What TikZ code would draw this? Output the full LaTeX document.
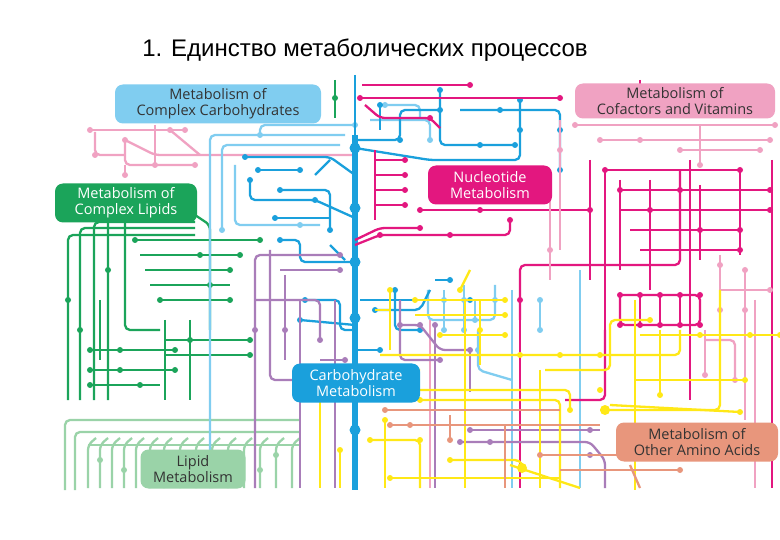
\documentclass[tikz,border=0pt]{standalone}
\usepackage{fontspec}
\setmainfont{Liberation Sans}
\newfontfamily\lab{Open Sans}
\definecolor{cB}{HTML}{1AA0DC}
\definecolor{cLB}{HTML}{80CDF0}
\definecolor{cM}{HTML}{E3177F}
\definecolor{cP}{HTML}{F0A2C2}
\definecolor{cG}{HTML}{1BA45A}
\definecolor{cLG}{HTML}{9AD3A8}
\definecolor{cV}{HTML}{A97DB9}
\definecolor{cY}{HTML}{FFE817}
\definecolor{cS}{HTML}{E8967C}
\tikzset{
 pw/.style={line width=2.3pt,rounded corners=5pt},
 B/.style={pw,draw=cB}, LB/.style={pw,draw=cLB}, M/.style={pw,draw=cM},
 P/.style={pw,draw=cP}, G/.style={pw,draw=cG}, LG/.style={pw,draw=cLG},
 V/.style={pw,draw=cV}, Y/.style={pw,draw=cY}, S/.style={pw,draw=cS},
 lbl/.style={rounded corners=8pt,inner sep=2pt,align=center,font=\lab\fontsize{14.5}{16}\selectfont,minimum height=39pt}
}
\newcommand\dts[2]{\foreach \q in {#2}{\fill[#1] \q circle (3pt);}}
\begin{document}
\begin{tikzpicture}[x=1pt,y=-1pt]
\useasboundingbox[fill=white] (0,0) rectangle (780,540);
\node (title) at (365,50) {\fontsize{24}{28}\selectfont 1. Единство метаболических процессов};

% ---------- light green (lipid) bottom-left
\draw[LG] (65,490)--(65,420)--(300,420);
\draw[LG] (75,490)--(75,432)--(300,432);
\foreach \x in {88,100,112,124,136,150,164,180,196,212,228,244,260,276,292}{\draw[LG] (\x,488)--(\x,445)--(\x+8,438);}
\draw[LG] (88,445)--(300,445);
\dts{cLG}{(100,460),(124,470),(150,455),(196,470),(228,460),(260,470),(276,455)}

% ---------- green (complex lipids)
\foreach \x/\t in {68/235,80/228,94/222,108/215}{\draw[G] (\x,400)--(\x,\t)--(195,\t);}
\draw[G] (195,215)--(210,225)--(210,330);
\draw[G] (125,215)--(125,330)--(160,330);
\draw[G] (135,240)--(260,240);
\draw[G] (140,255)--(240,255);
\draw[G] (145,270)--(230,270);
\draw[G] (150,285)--(230,285);
\draw[G] (160,300)--(230,300);
\draw[G] (100,300)--(100,360);
\draw[G] (90,350)--(175,350);
\draw[G] (90,370)--(175,370);
\draw[G] (90,385)--(160,385);
\draw[G] (165,340)--(250,340);
\draw[G] (165,355)--(250,355);
\draw[G] (165,320)--(165,400);
\draw[G] (190,320)--(190,400);
\draw[G] (335,80)--(335,118);
\dts{cG}{(135,240),(260,240),(240,255),(230,270),(160,300),(230,300),(90,350),(120,350),(175,350),(90,370),(120,370),(175,370),(90,385),(140,385),(250,340),(250,355),(190,340),(68,300),(80,330),(108,270),(335,98),(200,255),(210,285)}

% ---------- pink top-left
\draw[P] (90,130)--(185,130);
\draw[P] (95,132)--(95,155)--(125,155);
\draw[P] (125,140)--(125,165)--(195,165);
\draw[P] (125,140)--(155,155)--(200,155)--(355,155);
\draw[P] (155,125)--(155,165);
\draw[P] (170,130)--(200,155);
\draw[P] (125,175)--(125,165);
\dts{cP}{(90,130),(185,130),(95,155),(125,140),(125,175),(170,130),(155,165),(195,165)}

% ---------- light blue
\draw[LB] (210,488)--(210,135)--(345,135);
\draw[LB] (222,230)--(222,145)--(340,145);
\draw[LB] (235,165)--(235,225)--(320,225);
\draw[LB] (260,135)--(260,125)--(355,125);
\draw[LB] (355,78)--(355,135);
\draw[LB] (370,120)--(430,120)--(430,140);
\draw[LB] (428,290)--(428,320)--(495,320)--(495,285);
\draw[LB] (444,290)--(444,330);
\draw[LB] (464,285)--(464,330);
\draw[LB] (475,300)--(475,320);
\draw[LB] (512,290)--(512,488);
\draw[LB] (580,270)--(580,488);
\draw[LB] (540,300)--(540,330);
\draw[LB] (478,330)--(478,370)--(512,380);
\draw[LB] (385,105)--(420,105)--(420,120);
\dts{cLB}{(222,230),(260,135),(355,125),(430,140),(444,300),(464,300),(495,300),(444,330),(464,330),(475,320),(540,300),(540,330),(478,350),(385,105),(300,225)}

% ---------- blue (carbohydrate)
\draw[B] (245,157)--(330,157)--(355,175);
\draw[B] (258,170)--(300,170);
\draw[B] (250,180)--(250,200)--(315,200)--(355,218);
\draw[B] (280,190)--(330,190)--(330,230);
\draw[B] (275,218)--(330,218);
\draw[B] (280,240)--(300,240)--(300,262)--(355,262);
\draw[B] (315,175)--(330,160);
\draw[B] (330,245)--(345,260);
\draw[B] (355,140)--(400,140)--(400,110)--(440,110);
\draw[B] (355,148)--(430,160)--(520,160)--(520,100);
\draw[B] (440,90)--(440,145)--(515,145);
\draw[B] (460,110)--(560,110)--(560,170);
\draw[B] (360,300)--(470,300);
\draw[B] (395,290)--(395,330)--(420,330);
\draw[B] (305,300)--(340,300)--(340,330)--(355,330);
\draw[B] (375,310)--(420,310)--(430,290);
\draw[B] (355,350)--(380,350);
\draw[B] (300,320)--(355,325);
\draw[B] (380,105)--(380,130);
\draw[B] (435,280)--(450,280);
\draw[B] (355,75)--(355,490);
\draw[cB,line width=5.5pt] (355,135)--(355,490);
\dts{cB}{(245,157),(258,170),(300,170),(250,180),(315,200),(280,190),(330,230),(275,218),(280,240),(355,170),(400,140),(440,110),(520,100),(520,130),(440,90),(515,145),(560,170),(560,130),(470,300),(395,290),(420,330),(305,300),(380,350),(300,320),(375,310),(380,105),(450,280),(355,380),(355,420),(355,460),(500,110),(480,145)}
\foreach \q in {(355,148),(355,208),(355,262),(355,318),(355,430)}{\fill[cB] \q circle (5.5pt);}

% ---------- magenta (nucleotide)
\draw[M] (360,98)--(560,98);
\draw[M] (362,85)--(470,85);
\draw[M] (365,105)--(380,118)--(430,118)--(440,128);
\draw[M] (375,150)--(375,220);
\foreach \y in {160,175,190,205}{\draw[M] (375,\y)--(405,\y);}
\draw[M] (355,245)--(380,235)--(510,235)--(510,220);
\draw[M] (355,240)--(380,228)--(420,228);
\draw[M] (420,210)--(590,210);
\draw[M] (520,320)--(520,265)--(680,265)--(680,170);
\draw[M] (520,320)--(520,488);
\draw[M] (590,160)--(590,280);
\draw[M] (640,80)--(640,100);
\draw[M] (605,170)--(605,330);
\draw[M] (605,170)--(740,170);
\draw[M] (620,190)--(770,190);
\draw[M] (620,210)--(770,210);
\draw[M] (630,230)--(740,230);
\draw[M] (640,250)--(740,250);
\draw[M] (620,180)--(620,270);
\draw[M] (650,180)--(650,290);
\draw[M] (700,185)--(700,260);
\draw[M] (740,170)--(740,255);
\draw[M] (620,295)--(700,295)--(700,325)--(620,325)--(620,295);
\draw[M] (640,295)--(640,325);
\draw[M] (660,295)--(660,325);
\draw[M] (680,295)--(680,325);
\draw[M] (605,330)--(605,400)--(565,400);
\draw[M] (772,160)--(772,488);
\draw[M] (690,160)--(690,400);
\dts{cM}{(360,98),(560,98),(470,85),(430,118),(405,160),(405,175),(405,190),(405,205),(380,235),(510,220),(420,228),(420,210),(590,210),(605,170),(740,170),(770,190),(770,210),(740,230),(740,250),(620,190),(650,210),(700,230),(620,295),(640,295),(660,295),(680,295),(700,295),(620,325),(640,325),(660,325),(680,325),(700,325),(520,300),(450,235),(480,210),(640,90),(680,190)}

% ---------- pink right
\draw[P] (575,125)--(775,125);
\draw[P] (600,140)--(770,140);
\draw[P] (680,150)--(760,150);
\draw[P] (700,125)--(700,165);
\draw[P] (560,120)--(560,250);
\draw[P] (550,195)--(550,280);
\draw[P] (720,255)--(720,310);
\draw[P] (745,270)--(745,310);
\draw[P] (720,290)--(770,290);
\draw[P] (745,290)--(745,420);
\draw[P] (755,300)--(755,488);
\draw[P] (705,340)--(735,340)--(735,380);
\draw[P] (705,330)--(705,375);
\draw[P] (430,320)--(430,488);
\dts{cP}{(575,125),(775,125),(600,140),(770,140),(680,150),(760,150),(700,165),(720,265),(745,270),(720,310),(745,310),(770,290),(735,380),(705,375),(550,250),(560,150),(640,140)}

% ---------- purple
\draw[V] (255,488)--(255,255)--(340,255);
\draw[V] (270,250)--(270,380)--(300,380);
\draw[V] (255,300)--(320,300)--(320,340);
\draw[V] (280,270)--(340,270);
\draw[V] (285,275)--(285,360);
\draw[V] (300,300)--(300,488);
\draw[V] (320,360)--(345,360);
\draw[V] (335,300)--(335,488);
\draw[V] (400,300)--(400,360)--(440,360);
\draw[V] (400,325)--(420,325)--(440,350)--(470,350);
\draw[V] (435,325)--(435,488);
\draw[V] (470,350)--(470,392);
\draw[V] (470,430)--(600,430);
\draw[V] (460,442)--(590,442)--(605,460)--(605,488);
\dts{cV}{(340,255),(300,380),(320,340),(340,270),(345,360),(400,325),(440,360),(470,350),(420,325),(435,325),(470,430),(460,442),(490,442),(590,430),(590,455),(255,330),(285,330)}

% ---------- yellow
\draw[Y] (320,400)--(320,488);
\draw[Y] (390,290)--(390,350);
\draw[Y] (375,310)--(390,310);
\draw[Y] (415,300)--(505,300);
\draw[Y] (415,315)--(505,315);
\draw[Y] (440,335)--(505,335);
\draw[Y] (480,300)--(480,365);
\draw[Y] (380,355)--(680,355)--(680,330);
\draw[Y] (420,370)--(380,370)--(380,380);
\draw[Y] (415,390)--(570,390)--(570,410);
\draw[Y] (420,400)--(560,400)--(560,488);
\draw[Y] (540,370)--(540,488);
\draw[Y] (545,370)--(610,370)--(610,320)--(650,320);
\draw[Y] (600,410)--(720,410)--(720,290);
\draw[Y] (610,405)--(740,412);
\draw[Y] (635,380)--(745,380);
\draw[Y] (635,380)--(635,490);
\draw[Y] (640,335)--(780,335);
\draw[Y] (635,300)--(635,380);
\draw[Y] (660,330)--(660,395);
\draw[Y] (385,420)--(385,488);
\draw[Y] (370,440)--(420,440)--(420,488);
\draw[Y] (465,300)--(465,488);
\draw[Y] (390,478)--(560,478);
\draw[Y] (510,465)--(580,488);
\draw[Y] (450,460)--(520,460)--(525,470);
\draw[Y] (340,450)--(340,488);
\draw[Y] (460,290)--(470,270);
\dts{cY}{(415,300),(505,300),(505,315),(505,335),(440,335),(390,290),(480,330),(380,380),(415,390),(570,410),(420,400),(650,320),(740,412),(745,380),(780,335),(660,395),(370,440),(385,420),(420,440),(390,478),(450,460),(340,450),(460,290),(520,355),(560,355),(600,355),(600,390),(700,335),(750,335)}
\fill[cY] (605,410) circle (5pt);
\fill[cY] (522,468) circle (5pt);

% ---------- salmon
\draw[S] (385,410)--(560,410);
\draw[S] (390,425)--(600,425);
\draw[S] (450,415)--(450,440);
\draw[S] (505,425)--(505,488);
\draw[S] (540,455)--(680,455);
\draw[S] (560,470)--(680,470);
\draw[S] (630,465)--(640,488);
\dts{cS}{(385,410),(390,425),(450,440),(540,455),(680,455),(680,470),(410,425)}

% ---------- labels
\node[lbl,fill=cLB,text=black!80,minimum width=206pt] (cc) at (218,104) {Metabolism of\\Complex Carbohydrates};
\node[lbl,fill=cP,text=black!80,minimum width=200pt,minimum height=35pt] (cv) at (675,101) {Metabolism of\\Cofactors and Vitamins};
\node[lbl,fill=cG,text=white,minimum width=142pt] (cl) at (126,203) {Metabolism of\\Complex Lipids};
\node[lbl,fill=cM,text=white,minimum width=124pt] (nm) at (490,185) {Nucleotide\\Metabolism};
\node[lbl,fill=cB,text=white,minimum width=128pt] (cm) at (356,383) {Carbohydrate\\Metabolism};
\node[lbl,fill=cS,text=black!80,minimum width=162pt] (aa) at (697,442) {Metabolism of\\Other Amino Acids};
\node[lbl,fill=cLG,text=black!80,minimum width=105pt] (lm) at (193,469) {Lipid\\Metabolism};
\end{tikzpicture}
\end{document}
